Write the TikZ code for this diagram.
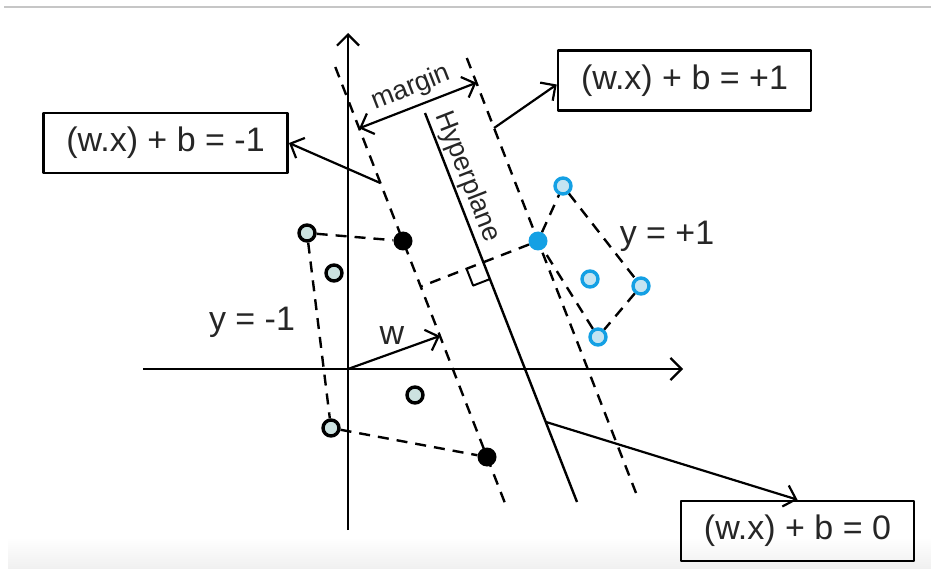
\documentclass[tikz,border=0pt]{standalone}
\usepackage{fontspec}
\setmainfont{Liberation Sans}
\usetikzlibrary{arrows.meta,calc}
\definecolor{ptblue}{RGB}{20,160,228}
\definecolor{ptblueL}{RGB}{196,228,242}
\definecolor{ptgreyL}{RGB}{204,226,224}

\begin{document}
\begin{tikzpicture}[x=1pt,y=-1pt,line join=round,
  every node/.style={font=\fontsize{34}{40}\selectfont,text=black!85},
  lbl/.style={inner sep=0pt},
  small/.style={font=\fontsize{27}{32}\selectfont},
  eqbox/.style={draw,line width=2.6pt,inner xsep=23pt,minimum height=60pt},
  dsh/.style={line width=2.4pt,dash pattern=on 11pt off 8pt},
  barb/.style={-{Straight Barb[length=11pt,width=22pt,line width=2.2pt]}},
  negpt/.style={circle,draw,line width=3.4pt,fill=ptgreyL,minimum size=16pt,inner sep=0pt},
  negsv/.style={circle,fill=black,minimum size=19pt,inner sep=0pt},
  pospt/.style={circle,draw=ptblue,line width=3.4pt,fill=ptblueL,minimum size=16pt,inner sep=0pt},
  possv/.style={circle,fill=ptblue,minimum size=19pt,inner sep=0pt}]
  \useasboundingbox (0,0) rectangle (931,569);
  % page frame bits
  \draw[gray!45,line width=1.5pt] (4,7) -- (931,7);
  \shade[top color=white,bottom color=gray!12] (8,537) rectangle (931,569);
  % axes
  \coordinate (o) at (348,369);
  \draw[line width=2.4pt,barb] (348,530) -- (348,33);
  \draw[line width=2.4pt,barb] (143,369) -- (683,369);
  % hyperplane and the two margin lines (parallel)
  \coordinate (lm1) at (335.3,67);
  \coordinate (lm2) at (505.7,505);
  \coordinate (rm1) at (466.8,58);
  \coordinate (rm2) at (636,493);
  \coordinate (hp1) at (425,113);
  \coordinate (hp2) at (577,502);
  \draw[dsh] (lm1) -- (lm2);
  \draw[dsh] (rm1) -- (rm2);
  \draw[line width=2.4pt] (hp1) -- (hp2);
  \node[lbl,small,rotate=-68.7] (hptxt) at (467,177) {Hyperplane};
  % points, class y = -1
  \node[negpt] (h1) at (307,233) {};
  \node[negpt] (h2) at (334,273) {};
  \node[negpt] (h3) at (415,395) {};
  \node[negpt] (h4) at (331,428) {};
  \node[negsv] (s1) at (403,241) {};
  \node[negsv] (s2) at (487,457) {};
  % points, class y = +1
  \node[possv] (sb) at (538,241) {};
  \node[pospt] (q1) at (563,186) {};
  \node[pospt] (q2) at (590,279) {};
  \node[pospt] (q3) at (641,286) {};
  \node[pospt] (q4) at (598,337) {};
  % hulls
  \draw[dsh] (h1) -- (s1);
  \draw[dsh] (h1) -- (h4);
  \draw[dsh] (h4) -- (s2);
  \draw[dsh] (sb) -- (q1);
  \draw[dsh] (q1) -- (q3);
  \draw[dsh] (q3) -- (q4);
  \draw[dsh] (q4) -- (sb);
  % distance from the support vector, with right angle on the hyperplane
  \coordinate (pl) at ($(lm1)!(sb)!(lm2)$);
  \coordinate (ft) at ($(hp1)!(sb)!(hp2)$);
  \draw[dsh] (sb) -- (pl);
  \coordinate (ra1) at ($(ft)!18pt!(pl)$);
  \coordinate (ra2) at ($(ft)!18pt!(hp2)$);
  \draw[line width=2pt] (ra1) -- ($(ra1)+(ra2)-(ft)$) -- (ra2);
  % margin
  \coordinate (mg1) at ($(lm1)!0.14!(lm2)$);
  \coordinate (mg2) at ($(rm1)!(mg1)!(rm2)$);
  \draw[line width=2.2pt,{Straight Barb[length=11pt,width=22pt,line width=2.2pt]}-{Straight Barb[length=11pt,width=22pt,line width=2.2pt]}]
    (mg1) -- (mg2);
  \node[lbl,small,rotate=21.3] (mgtxt) at (411,88) {margin};
  % normal vector
  \coordinate (wt) at ($(lm1)!0.614!(lm2)$);
  \draw[line width=2.2pt,barb] (o) -- (wt);
  \node[lbl] (wtxt) at (392,336) {w};
  % equations
  \node[eqbox] (bm) at (165.5,143) {(w.x) + b = -1};
  \node[eqbox] (bp) at (684.5,80.5) {(w.x) + b = +1};
  \node[eqbox] (bz) at (797.5,531) {(w.x) + b = 0};
  \draw[line width=2.2pt,barb] ($(lm1)!0.265!(lm2)$) -- (bm.east);
  \draw[line width=2.2pt,barb] ($(rm1)!0.161!(rm2)$) -- ($(bp.west)+(0,4)$);
  \draw[line width=2.2pt,barb] ($(hp1)!0.794!(hp2)$) -- (bz.north);
  % class labels
  \node[lbl] (yneg) at (252,322) {y = -1};
  \node[lbl] (ypos) at (667,236) {y = +1};
\end{tikzpicture}
\end{document}
